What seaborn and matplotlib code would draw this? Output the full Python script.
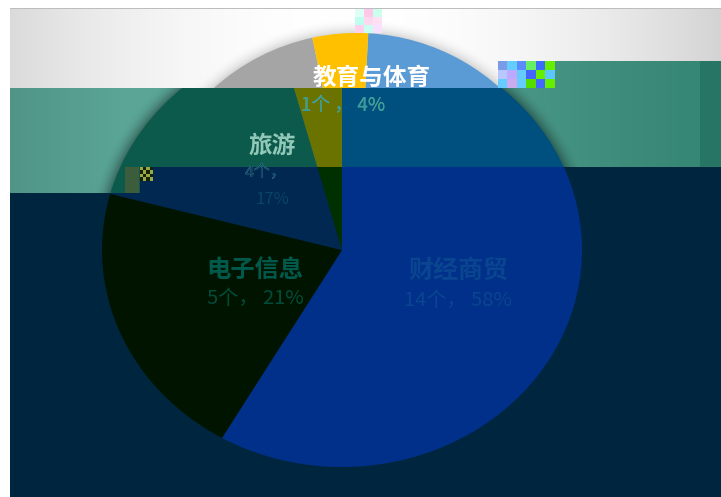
import numpy as np
import matplotlib
matplotlib.use("Agg")
import matplotlib.pyplot as plt
from matplotlib.patches import Rectangle
from matplotlib.transforms import IdentityTransform
from matplotlib.colors import to_rgb
import seaborn as sns

categories = ["财经商贸", "电子信息", "旅游", "教育与体育"]
counts = [14, 5, 4, 1]
percents = ["58%", "21%", "17%", "4%"]

# the picture is corrupted, each band shows the same pie in other colours
top_colors = ["#5B9BD5", "#ED7D31", "#A5A5A5", "#FFC000"]
teal_colors = ["#00507F", "#8A3A05", "#0B5A4C", "#6B7300"]
dark_colors = ["#00308A", "#001400", "#002850", "#003000"]

W, H = 721, 497

sns.set_theme(style="white")
plt.rcParams["font.family"] = ["Noto Sans CJK SC", "DejaVu Sans"]

fig = plt.figure(figsize=(W / 100, H / 100), dpi=100, facecolor="white")


def box(x0, y0, x1, y1):
    return Rectangle((x0, H - y1), x1 - x0, y1 - y0, transform=IdentityTransform())


def draw_pie(cx, cy, rx, ry, colors, start, clips):
    for clip in clips:
        ax = fig.add_axes([(cx - rx) / W, 1 - (cy + ry) / H, 2 * rx / W, 2 * ry / H])
        wedges, _ = ax.pie(counts, colors=sns.color_palette(colors), startangle=start,
                           counterclock=False, radius=1, wedgeprops={"linewidth": 0})
        ax.set_aspect("auto")
        ax.set_xlim(-1, 1)
        ax.set_ylim(-1, 1)
        ax.patch.set_alpha(0)
        for w in wedges:
            w.set_clip_on(True)
            w.set_clip_path(box(*clip))


def label(x, y, s, size, color, clip, bold=False):
    txt.text(x, y, s, fontsize=size, color=color, ha="center", va="center",
             fontweight="bold" if bold else "normal", clip_on=True,
             clip_path=box(*clip))


# background
yy, xx = np.mgrid[0:H, 0:W] + 0.5
side = np.abs(xx - 350) / 370
grey = 1 - 0.17 * side ** 2
r_top = np.hypot((xx - 357) / 215, (yy - 250) / 217)
r_low = np.hypot((xx - 342) / 240, (yy - 250) / 217)
shade_top = 1 - 0.15 * np.clip(1 - (r_top - 1) / 0.07, 0, 1) ** 2
shade_low = 1 - 0.35 * np.clip(1 - (r_low - 1) / 0.07, 0, 1) ** 2

bg = np.ones((H, W, 3))
top = (yy >= 9) & (yy < 88) & (xx >= 10)
bg[top] = (grey * shade_top)[top][:, None] * np.ones(3)

teal_l = np.array(to_rgb("#5AA596"))
teal_r = np.array(to_rgb("#378775"))
mix = np.clip((xx - 340) / 350, 0, 1)[..., None]
teal = (teal_l * (1 - mix) + teal_r * mix) * shade_low[..., None]
left_fade = 1 - 0.1 * np.clip((120 - xx) / 110, 0, 1)
teal = teal * left_fade[..., None]
mid = (xx >= 10) & (((yy >= 88) & (yy < 167)) | ((yy >= 167) & (yy < 193) & (xx < 140))
                    | ((yy >= 61) & (yy < 88) & (xx >= 555)))
bg[mid] = teal[mid]
bg[mid & (xx >= 700)] = to_rgb("#267565")
low = (xx >= 10) & (yy >= 167) & ~mid
bg[low] = to_rgb("#00263F")
bg[(yy >= 8) & (yy < 9) & (xx >= 10)] = to_rgb("#BDBDBD")

back = fig.add_axes([0, 0, 1, 1])
back.imshow(bg, extent=(0, W, H, 0), aspect="auto", interpolation="bilinear")
back.set_xlim(0, W)
back.set_ylim(H, 0)
back.axis("off")

draw_pie(357, 250, 215, 217, top_colors, 87, [(10, 9, 721, 88)])
draw_pie(342, 250, 240, 217, teal_colors, 90, [(10, 88, 721, 167), (10, 167, 140, 193)])
draw_pie(342, 250, 240, 217, dark_colors, 90, [(140, 167, 721, 497), (10, 193, 140, 497)])

# corrupted blocks
over = fig.add_axes([0, 0, 1, 1])
over.set_xlim(0, W)
over.set_ylim(H, 0)
over.axis("off")
over.patch.set_alpha(0)

glitch_a = [["#7A9CE8", "#66CCFF", "#5B8CFF", "#66EE66", "#3C6CFF", "#66EE00"],
            ["#B8C8FF", "#BBAAFF", "#66CCFF", "#4466FF", "#66EE00", "#5AC8FF"],
            ["#66CCFF", "#CCAAEE", "#66CCFF", "#55DD00", "#4466FF", "#66EE00"]]
glitch_b = [["#DDFFF5", "#FFC8E8", "#CCFFEE"],
            ["#BFFFF0", "#FFD8F0", "#FFE0F5"],
            ["#FFD0EC", "#C8FFF0", "#F8E0FF"]]
glitch_c = [["#9AAA40", "#14240C", "#9AAA40", "#14240C"],
            ["#14240C", "#9AAA40", "#14240C", "#9AAA40"],
            ["#9AAA40", "#14240C", "#9AAA40", "#14240C"],
            ["#14240C", "#9AAA40", "#14240C", "#9AAA40"]]
for block, ext in [(glitch_a, (498, 555, 88, 61)), (glitch_b, (355, 382, 33, 9)),
                   (glitch_c, (140, 153, 181, 167))]:
    over.imshow([[to_rgb(c) for c in row] for row in block], extent=ext,
                aspect="auto", interpolation="nearest")
over.add_patch(Rectangle((125, 167), 14, 26, color="#3D5C3C", lw=0))
over.set_xlim(0, W)
over.set_ylim(H, 0)

# labels
txt = fig.add_axes([0, 0, 1, 1])
txt.set_xlim(0, W)
txt.set_ylim(H, 0)
txt.axis("off")
txt.patch.set_alpha(0)

band_top = (10, 9, 721, 88)
band_teal = (10, 88, 721, 167)
band_dark = (10, 167, 721, 497)

label(372, 78, categories[3], 17, "white", band_top, True)
line = f"{counts[3]}个 ， {percents[3]}"
label(343, 105, line, 13.5, "#9DB23A", (10, 88, 342, 167))
label(343, 105, line, 13.5, "#2E9DB0", (342, 88, 721, 167))

label(272, 146, categories[2], 17, "#92C8B8", band_teal, True)
label(266, 173, f"{counts[2]}个，", 12, "#A0D0C0", band_teal)
label(266, 173, f"{counts[2]}个，", 12, "#0A4468", band_dark)
label(272, 200, percents[2], 12, "#0A4468", band_dark)

label(255, 270, categories[1], 17.5, "#005A4C", band_dark, True)
label(255, 298, f"{counts[1]}个， {percents[1]}", 14.5, "#004C3A", band_dark)

label(458, 271, categories[0], 18, "#0A4590", band_dark, True)
label(458, 300, f"{counts[0]}个， {percents[0]}", 14.5, "#0A4590", band_dark)

fig.savefig("out.png", dpi=100)
